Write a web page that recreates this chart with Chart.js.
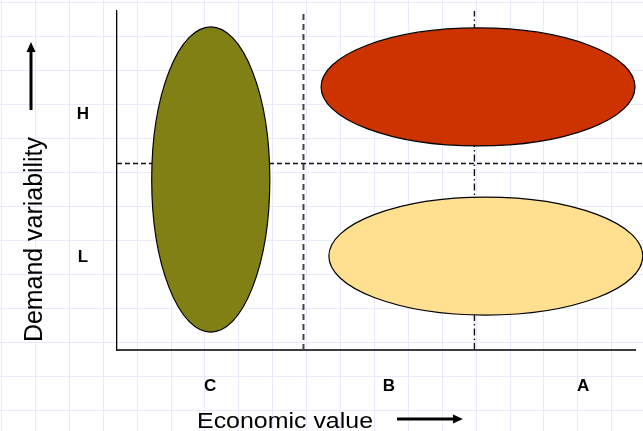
<!DOCTYPE html>
<html>
<head>
<meta charset="utf-8">
<script src="https://cdn.jsdelivr.net/npm/chart.js@4.4.1/dist/chart.umd.min.js"></script>
<style>
  html, body { margin: 0; padding: 0; }
  body {
    width: 643px; height: 431px; overflow: hidden;
    background-color: #fff;
    background-image:
      repeating-linear-gradient(to right, #e6eafa 0 1px, transparent 1px 33.9px),
      repeating-linear-gradient(to bottom, #e6eafa 0 1px, transparent 1px 34px);
    background-position: 1px 2px;
  }
  #wrap { position: relative; width: 643px; height: 431px; }
</style>
</head>
<body>
<div id="wrap"><canvas id="matrix"></canvas></div>
<script>
// axis categories
var valueLabels = ['C', 'B', 'A'];
var valuePos = [1.8, 5.25, 9.0];
var variabilityLabels = ['L', 'H'];
var variabilityPos = [2.74, 6.96];

// quadrant boundaries
var splitCB = 3.6;
var splitBA = 6.9;
var splitHL = 5.5;

// item groups drawn as ellipses: centre and half-spread in axis units
var groupNames = ['C items', 'A/B high variability', 'A/B low variability'];
var groupX = [1.81, 6.97, 7.12];
var groupY = [5.03, 7.76, 2.77];
var groupSpreadX = [1.14, 3.03, 3.03];
var groupSpreadY = [4.5, 1.74, 1.74];
var groupColors = ['#808015', '#cc3300', '#ffe091'];

var FONT = 'Arial, "Liberation Sans", sans-serif';

// ellipses on top of the boundary lines
var ellipsePlugin = {
  id: 'ellipses',
  afterDatasetsDraw: function (chart) {
    var ctx = chart.ctx, xs = chart.scales.x, ys = chart.scales.y;
    ctx.save();
    for (var i = 0; i < groupNames.length; i++) {
      var cx = xs.getPixelForValue(groupX[i]);
      var cy = ys.getPixelForValue(groupY[i]);
      var rx = Math.abs(xs.getPixelForValue(groupX[i] + groupSpreadX[i]) - cx);
      var ry = Math.abs(ys.getPixelForValue(groupY[i] + groupSpreadY[i]) - cy);
      ctx.beginPath();
      ctx.ellipse(cx, cy, rx, ry, 0, 0, Math.PI * 2);
      ctx.fillStyle = groupColors[i];
      ctx.fill();
      ctx.lineWidth = 1.2;
      ctx.strokeStyle = '#000';
      ctx.stroke();
    }
    ctx.restore();
  }
};

// axis titles with arrows
function stretchedText(ctx, text, x, y, width) {
  var w = ctx.measureText(text).width;
  ctx.save();
  ctx.translate(x, y);
  ctx.scale(width / w, 1);
  ctx.fillText(text, 0, 0);
  ctx.restore();
}

var titlePlugin = {
  id: 'titles',
  afterDraw: function (chart) {
    var ctx = chart.ctx;
    ctx.save();
    ctx.fillStyle = '#000';
    ctx.strokeStyle = '#000';
    ctx.textBaseline = 'alphabetic';
    ctx.textAlign = 'left';

    ctx.font = '22px ' + FONT;
    stretchedText(ctx, 'Economic value', 197, 428, 176);

    ctx.save();
    ctx.translate(42, 342);
    ctx.rotate(-Math.PI / 2);
    ctx.font = '26px ' + FONT;
    stretchedText(ctx, 'Demand variability', 0, 0, 205);
    ctx.restore();

    ctx.lineWidth = 3;
    ctx.beginPath();
    ctx.moveTo(397, 419); ctx.lineTo(454, 419);
    ctx.moveTo(31, 110); ctx.lineTo(31, 51);
    ctx.stroke();
    ctx.beginPath();
    ctx.moveTo(463, 419); ctx.lineTo(453, 414.5); ctx.lineTo(453, 423.5); ctx.closePath();
    ctx.moveTo(31, 42); ctx.lineTo(26.5, 52); ctx.lineTo(35.5, 52); ctx.closePath();
    ctx.fill();
    ctx.restore();
  }
};

var lineStyle = {
  showLine: true,
  pointRadius: 0,
  clip: false
};

var ctx = document.getElementById('matrix').getContext('2d');
var matrixChart = new Chart(ctx, {
  type: 'scatter',
  data: {
    datasets: [
      Object.assign({
        label: 'C | B',
        data: [{x: splitCB, y: 0}, {x: splitCB, y: 10}],
        borderColor: '#444',
        borderWidth: 2,
        borderDash: [6, 4]
      }, lineStyle),
      Object.assign({
        label: 'H | L',
        data: [{x: 0, y: splitHL}, {x: 10.2, y: splitHL}],
        borderColor: '#111',
        borderWidth: 1.4,
        borderDash: [5, 3]
      }, lineStyle),
      Object.assign({
        label: 'B | A',
        data: [{x: splitBA, y: 0}, {x: splitBA, y: 10}],
        borderColor: '#111',
        borderWidth: 1.4,
        borderDash: [7, 3, 1.5, 3]
      }, lineStyle)
    ]
  },
  options: {
    responsive: true,
    maintainAspectRatio: false,
    animation: false,
    layout: { padding: { top: 11, right: 8, left: 0, bottom: 0 } },
    plugins: {
      legend: { display: false },
      tooltip: { enabled: false }
    },
    scales: {
      x: {
        type: 'linear',
        min: 0,
        max: 10,
        afterBuildTicks: function (scale) {
          scale.ticks = valuePos.map(function (v) { return {value: v}; });
        },
        afterFit: function (scale) {
          scale.height = 81;
          scale.paddingLeft = 0;
          scale.paddingRight = 0;
        },
        ticks: {
          padding: 26,
          color: '#000',
          font: { family: FONT, size: 17, weight: 'bold' },
          callback: function (value, index) { return valueLabels[index]; }
        },
        grid: { display: false, drawTicks: false },
        border: { display: true, color: '#3c3c3c', width: 2 }
      },
      y: {
        type: 'linear',
        min: 0,
        max: 10,
        afterBuildTicks: function (scale) {
          scale.ticks = variabilityPos.map(function (v) { return {value: v}; });
        },
        afterFit: function (scale) {
          scale.width = 117;
          scale.paddingTop = 0;
          scale.paddingBottom = 0;
        },
        ticks: {
          padding: 28,
          crossAlign: 'center',
          color: '#000',
          font: { family: FONT, size: 17, weight: 'bold' },
          callback: function (value, index) { return variabilityLabels[index]; }
        },
        grid: { display: false, drawTicks: false },
        border: { display: true, color: '#000', width: 1.3 }
      }
    }
  },
  plugins: [ellipsePlugin, titlePlugin]
});
</script>
</body>
</html>
